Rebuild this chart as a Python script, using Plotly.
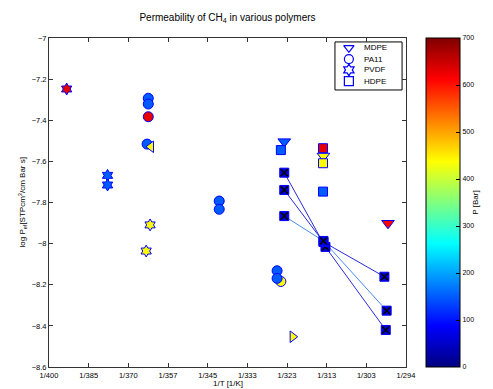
import plotly.graph_objects as go

# MATLAB-style jet colour map for pressure
JET = [[0.0, "rgb(0,0,128)"], [0.125, "rgb(0,0,255)"], [0.375, "rgb(0,255,255)"],
       [0.625, "rgb(255,255,0)"], [0.875, "rgb(255,0,0)"], [1.0, "rgb(128,0,0)"]]
P_MIN, P_MAX = 0, 700

# ---- data: temperature [K], log permeability, pressure [Bar] ----
mdpe_T = [323.3, 313.3, 298.1]
mdpe_logP = [-7.504, -7.574, -7.901]
mdpe_P = [150, 440, 610]

pa11_T = [324.2, 363.6, 363.6, 363.6, 364.0, 341.4, 341.4, 325.2, 325.2]
pa11_logP = [-8.184, -7.293, -7.321, -7.383, -7.516, -7.793, -7.833, -8.132, -8.169]
pa11_P = [440, 150, 150, 630, 150, 150, 150, 150, 150]

pvdf_T = [393.0, 377.7, 377.7, 363.0, 364.3]
pvdf_logP = [-7.248, -7.668, -7.715, -7.909, -8.036]
pvdf_P = [630, 150, 150, 440, 440]

hdpe_T = [324.2, 313.4, 313.4, 313.4]
hdpe_logP = [-7.545, -7.536, -7.609, -7.747]
hdpe_P = [150, 630, 440, 150]

# extra points plotted with triangle-left / triangle-right symbols
tl_T, tl_logP, tl_P = [362.7], [-7.529], [440]
tr_T, tr_logP, tr_P = [321.1], [-8.453], [440]

# HDPE temperature series joined by lines
hdpe_runs_T = [[323.3, 312.8, 298.6], [323.3, 313.3, 298.9], [323.3, 313.3, 298.4]]
hdpe_runs_logP = [[-7.655, -8.016, -8.420], [-7.739, -7.992, -8.161], [-7.866, -7.987, -8.326]]
hdpe_runs_P = [[60, 60, 60], [60, 60, 60], [60, 60, 60]]
hdpe_run_colors = ["#2a2ad8", "#2a2ad8", "#4a8cf0"]

x_tick_vals = [0.0025, 0.0026, 0.0027, 0.0028, 0.0029, 0.0030, 0.0031, 0.0032, 0.0033, 0.0034]
x_tick_text = ["1/400", "1/385", "1/370", "1/357", "1/345", "1/333", "1/323", "1/313", "1/303", "1/294"]
y_ticks = [-7, -7.2, -7.4, -7.6, -7.8, -8, -8.2, -8.4, -8.6]
legend_names = ["MDPE", "PA11", "PVDF", "HDPE"]
legend_symbols = ["triangle-down-open", "circle-open", "hexagram-open", "square-open"]

FONT = "Liberation Sans, Arial, sans-serif"


def inv(ts):
    return [1.0 / t for t in ts]


def scatter(T, logP, P, symbol, size, showscale=False):
    marker = dict(symbol=symbol, size=size, color=P, colorscale=JET,
                  cmin=P_MIN, cmax=P_MAX, line=dict(color="rgb(0,0,255)", width=1))
    if showscale:
        marker["showscale"] = True
        marker["colorbar"] = dict(
            x=1.056, xanchor="left", xpad=0, ypad=0, y=0.5, yanchor="middle",
            len=1, lenmode="fraction", thickness=34, thicknessmode="pixels",
            outlinecolor="black", outlinewidth=1, ticks="inside", ticklen=4,
            tickcolor="black", tickvals=[0, 100, 200, 300, 400, 500, 600, 700],
            tickfont=dict(family=FONT, size=7, color="black"),
            title=dict(text="P [Bar]", side="right", font=dict(family=FONT, size=8, color="black")),
        )
    return go.Scatter(x=inv(T), y=logP, mode="markers", marker=marker,
                      showlegend=False, hoverinfo="skip")


fig = go.Figure()

# lines of the HDPE temperature runs
for Ts, ys, c in zip(hdpe_runs_T, hdpe_runs_logP, hdpe_run_colors):
    fig.add_trace(go.Scatter(x=inv(Ts), y=ys, mode="lines", line=dict(color=c, width=1),
                             showlegend=False, hoverinfo="skip"))

fig.add_trace(scatter(mdpe_T, mdpe_logP, mdpe_P, "triangle-down", 11))
fig.add_trace(scatter(pa11_T, pa11_logP, pa11_P, "circle", 10, showscale=True))
fig.add_trace(scatter(pvdf_T, pvdf_logP, pvdf_P, "hexagram", 9))
fig.add_trace(scatter(hdpe_T, hdpe_logP, hdpe_P, "square", 9))
fig.add_trace(scatter(tl_T, tl_logP, tl_P, "triangle-left", 10))
fig.add_trace(scatter(tr_T, tr_logP, tr_P, "triangle-right", 10))

# HDPE run markers: filled square with a cross on top
for Ts, ys, ps in zip(hdpe_runs_T, hdpe_runs_logP, hdpe_runs_P):
    fig.add_trace(scatter(Ts, ys, ps, "square", 9))
    fig.add_trace(go.Scatter(x=inv(Ts), y=ys, mode="markers",
                             marker=dict(symbol="x-thin", size=7, line=dict(color="black", width=1.5)),
                             showlegend=False, hoverinfo="skip"))

# legend symbols on an overlay axis in unit coordinates
leg_x = 0.840
leg_y = [0.970, 0.936, 0.903, 0.869]
for name, sym, ly in zip(legend_names, legend_symbols, leg_y):
    fig.add_trace(go.Scatter(x=[leg_x], y=[ly], xaxis="x2", yaxis="y2", mode="markers",
                             marker=dict(symbol=sym, size=9, color="rgb(0,0,255)",
                                         line=dict(color="rgb(0,0,255)", width=1.2)),
                             showlegend=False, hoverinfo="skip"))
    fig.add_annotation(x=0.877, y=ly, xref="paper", yref="paper", text=name, showarrow=False,
                       xanchor="left", yanchor="middle", font=dict(family=FONT, size=8, color="black"))

fig.add_shape(type="rect", xref="paper", yref="paper", x0=0.801, x1=0.989, y0=0.842, y1=0.988,
              line=dict(color="black", width=1), fillcolor="white", layer="below")

# axis titles
fig.add_annotation(x=0.5, y=-0.049, xref="paper", yref="paper", text="1/T [1/K]",
                   showarrow=False, xanchor="center", yanchor="middle",
                   font=dict(family=FONT, size=8, color="black"))
fig.add_annotation(x=-0.0756, y=0.5, xref="paper", yref="paper", textangle=-90,
                   text="log P<sub>ef</sub>[STPcm<sup>3</sup>/cm Bar s]",
                   showarrow=False, xanchor="center", yanchor="middle",
                   font=dict(family=FONT, size=8, color="black"))

axis_common = dict(showline=True, linecolor="#333333", linewidth=1, mirror="ticks",
                   ticks="inside", ticklen=4, tickcolor="#333333", showgrid=False,
                   zeroline=False, automargin=False,
                   tickfont=dict(family=FONT, size=7.5, color="black"))

fig.update_layout(
    width=493, height=389,
    margin=dict(l=49, r=87, t=38, b=22, autoexpand=False),
    paper_bgcolor="white", plot_bgcolor="white",
    title=dict(text="Permeability of CH<sub>4</sub> in various polymers", x=0.5, xref="paper",
               xanchor="center", y=0.954, yanchor="middle",
               font=dict(family=FONT, size=10, color="black")),
    xaxis=dict(range=[0.0025, 0.0034], tickvals=x_tick_vals, ticktext=x_tick_text,
               ticklabelstandoff=1, **axis_common),
    yaxis=dict(range=[-8.6, -7], tickvals=y_ticks,
               ticktext=[f"{v:g}".replace("-", "\u2212") for v in y_ticks],
               **axis_common),
    xaxis2=dict(range=[0, 1], overlaying="x", visible=False, fixedrange=True),
    yaxis2=dict(range=[0, 1], overlaying="y", visible=False, fixedrange=True),
)

fig.write_html("out.html")
